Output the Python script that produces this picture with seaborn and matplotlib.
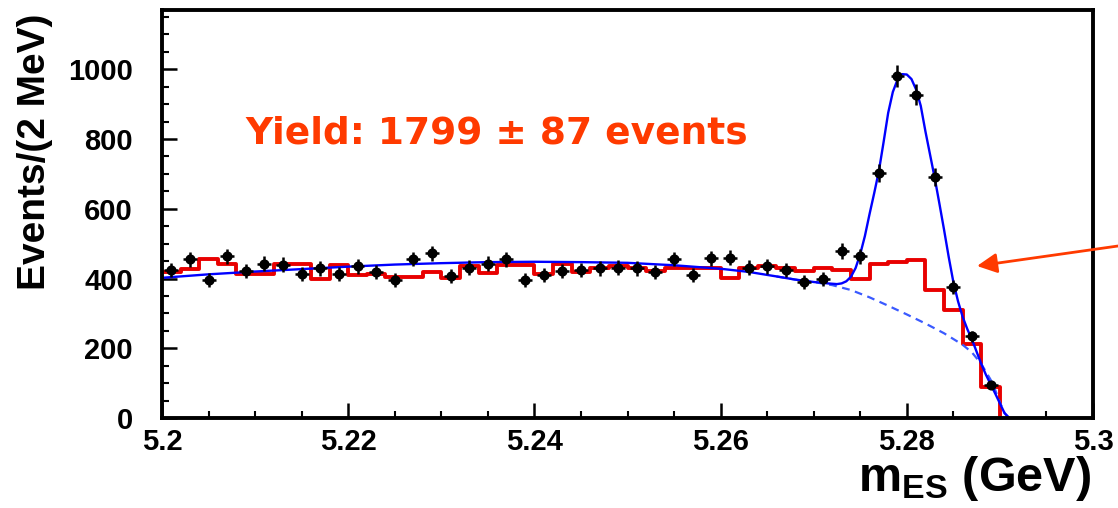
import numpy as np
import pandas as pd
import matplotlib
matplotlib.use("Agg")
import matplotlib.pyplot as plt
from matplotlib.ticker import MultipleLocator
import seaborn as sns

# m_ES binning: 2 MeV bins between 5.20 and 5.29 GeV
bin_lo, bin_hi, n_bins = 5.20, 5.29, 45

# Observed events per bin
data_counts = [424, 455, 397, 464, 422, 443, 440, 412, 429, 412,
               435, 419, 397, 456, 472, 407, 431, 443, 455, 395,
               410, 421, 424, 429, 431, 429, 419, 456, 410, 458,
               460, 431, 435, 424, 391, 398, 479, 464, 703, 980,
               927, 692, 376, 234, 94]

# Reference (red) histogram per bin
ref_counts = [418, 428, 455, 443, 412, 412, 443, 443, 400, 438,
              410, 412, 405, 405, 420, 402, 435, 416, 438, 439,
              413, 441, 419, 429, 437, 429, 422, 430, 429, 429,
              402, 431, 437, 430, 422, 429, 423, 399, 441, 447,
              453, 368, 309, 212, 89]

# Total fit curve (signal + background)
fit_x = [5.200, 5.205, 5.210, 5.215, 5.220, 5.225, 5.230, 5.235, 5.240,
         5.245, 5.250, 5.255, 5.260, 5.263, 5.266, 5.268, 5.270, 5.2715,
         5.2725, 5.2730, 5.2735, 5.2740, 5.2745, 5.2750, 5.2755, 5.2760,
         5.2765, 5.2770, 5.2775, 5.2780, 5.2785, 5.2790, 5.2795, 5.2800,
         5.2805, 5.2810, 5.2815, 5.2820, 5.2825, 5.2830, 5.2835, 5.2840,
         5.2845, 5.2850, 5.2855, 5.2860, 5.2865, 5.2870, 5.2875, 5.2880,
         5.2885, 5.2890, 5.2895, 5.2900, 5.2905, 5.2910]
fit_y = [402, 412, 420, 427, 434, 440, 444, 447, 448,
         447, 445, 438, 428, 419, 406, 397, 390, 386,
         384, 386, 392, 405, 430, 470, 522, 585,
         645, 708, 790, 875, 935, 970, 986, 985,
         972, 942, 895, 822, 755, 688, 615, 540,
         462, 390, 335, 290, 255, 225, 190, 155,
         124, 97, 70, 42, 14, 0]

# Background component of the fit
bkg_x = [5.266, 5.268, 5.270, 5.272, 5.274, 5.276, 5.278, 5.280, 5.282,
         5.284, 5.286, 5.287, 5.288, 5.289, 5.2895, 5.290, 5.2905, 5.291]
bkg_y = [406, 397, 390, 381, 367, 346, 322, 297, 271,
         243, 210, 188, 155, 110, 80, 45, 14, 0]

yield_text = "Yield: 1799 \u00b1 87 events"

sns.set_theme(style="ticks")
plt.rcParams["font.family"] = ["Liberation Sans", "DejaVu Sans"]
plt.rcParams["font.weight"] = "bold"
plt.rcParams["text.color"] = "black"
plt.rcParams["axes.labelcolor"] = "black"
plt.rcParams["xtick.color"] = "black"
plt.rcParams["ytick.color"] = "black"
plt.rcParams["mathtext.fontset"] = "custom"
plt.rcParams["mathtext.rm"] = "Liberation Sans:bold"
plt.rcParams["mathtext.bf"] = "Liberation Sans:bold"
plt.rcParams["mathtext.it"] = "Liberation Sans:bold"

edges = np.linspace(bin_lo, bin_hi, n_bins + 1)
centers = 0.5 * (edges[:-1] + edges[1:])
data_counts = np.asarray(data_counts, float)
ref_df = pd.DataFrame({"m": centers, "w": ref_counts})

fig = plt.figure(figsize=(11.18, 5.08), dpi=100)
ax = fig.add_axes([162 / 1118, 1 - 418 / 508, (1093 - 162) / 1118, (418 - 10) / 508])

red = "#e80000"
orange = "#ff3a00"

sns.histplot(data=ref_df, x="m", weights="w", binwidth=0.002,
             binrange=(bin_lo, bin_hi), element="step", fill=False,
             color=red, linewidth=2.8, ax=ax)
# closing edge of the histogram at the upper end
ax.vlines(bin_hi, 0, ref_counts[-1], color=red, linewidth=2.8)

sns.lineplot(x=bkg_x, y=bkg_y, color="#3a5aff", linewidth=1.6,
             linestyle=(0, (3.5, 2.5)), ax=ax)
sns.lineplot(x=fit_x, y=fit_y, color="#0000ff", linewidth=1.7, ax=ax)

ax.errorbar(centers, data_counts, yerr=np.sqrt(data_counts), xerr=0.00075,
            fmt="o", ms=6.3, color="black", ecolor="black",
            elinewidth=1.8, capsize=0, zorder=5)

ax.set_xlim(5.2, 5.3)
ax.set_ylim(0, 1170)
ax.xaxis.set_major_locator(MultipleLocator(0.02))
ax.xaxis.set_minor_locator(MultipleLocator(0.005))
ax.yaxis.set_major_locator(MultipleLocator(200))
ax.yaxis.set_minor_locator(MultipleLocator(50))
ax.set_xticks([5.2, 5.22, 5.24, 5.26, 5.28, 5.3])
ax.set_xticklabels(["5.2", "5.22", "5.24", "5.26", "5.28", "5.3"])
ax.tick_params(axis="both", which="major", direction="in", length=11,
               width=1.8, labelsize=21, color="black", labelcolor="black")
ax.tick_params(axis="both", which="minor", direction="in", length=5,
               width=1.5, color="black")
ax.tick_params(axis="x", which="both", top=False, pad=7)
ax.tick_params(axis="y", which="both", right=False, pad=21)
for lab in ax.get_xticklabels() + ax.get_yticklabels():
    lab.set_fontweight("bold")

for side in ["left", "bottom", "top", "right"]:
    ax.spines[side].set_visible(True)
    ax.spines[side].set_color("black")
    ax.spines[side].set_linewidth(2.8)

ax.set_ylabel("Events/(2 MeV)", fontsize=28, fontweight="bold", color="black")
ax.yaxis.set_label_coords(-0.117, 0.652)
ax.set_xlabel(r"$\mathbf{m_{ES}}$ (GeV)", fontsize=35, fontweight="bold",
              loc="right", color="black")
ax.xaxis.set_label_coords(0.998, -0.088)

fig.text(245 / 1118, 1 - 133 / 508, yield_text, color=orange, fontsize=27,
         fontweight="bold", family=["DejaVu Sans"], ha="left", va="center")

ax.annotate("", xy=(977 / 1118, 1 - 266 / 508), xycoords="figure fraction",
            xytext=(1.0, 1 - 246 / 508), textcoords="figure fraction",
            arrowprops=dict(arrowstyle="-|>", color=orange, lw=2,
                            mutation_scale=30, shrinkA=0, shrinkB=0))

fig.savefig("out.png", dpi=100, facecolor="white")
